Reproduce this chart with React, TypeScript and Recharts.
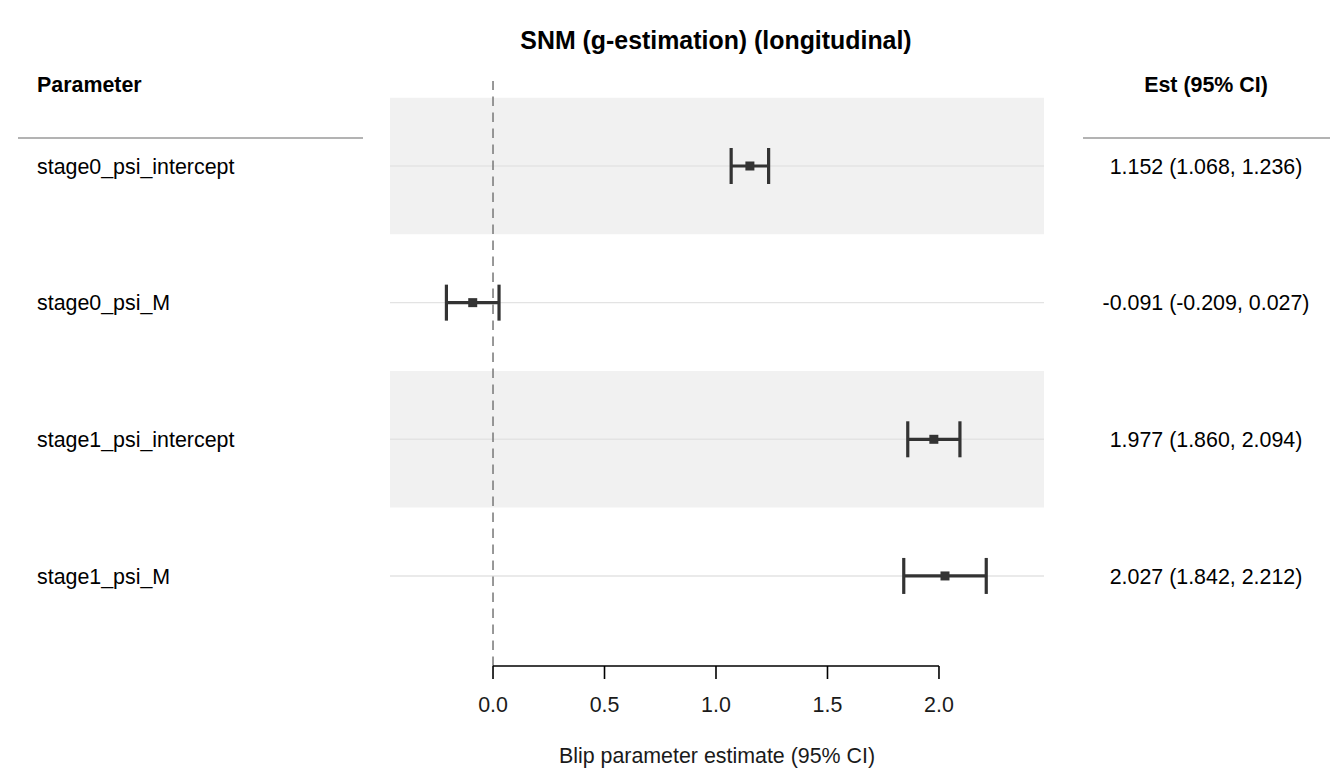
import React from 'react';
import {
  ComposedChart,
  Scatter,
  XAxis,
  YAxis,
  ZAxis,
  ErrorBar,
  ReferenceArea,
  ReferenceLine,
} from 'recharts';

// Blip parameter estimates with 95% confidence limits
const parameters = ['stage0_psi_intercept', 'stage0_psi_M', 'stage1_psi_intercept', 'stage1_psi_M'];
const estimates = [1.152, -0.091, 1.977, 2.027];
const lowerCI = [1.068, -0.209, 1.86, 1.842];
const upperCI = [1.236, 0.027, 2.094, 2.212];
const xTicks = [0, 0.5, 1, 1.5, 2];

const FONT = '"Liberation Sans", Arial, Helvetica, sans-serif';
const BASE = 21.4;
const X_DOMAIN: [number, number] = [-0.462, 2.471];
const Y_DOMAIN: [number, number] = [0.378, 4.659];

const fmt = (v: number) => v.toFixed(3);

const rows = parameters.map((name, i) => ({
  row: i + 1,
  name,
  est: estimates[i],
  ci: [estimates[i] - lowerCI[i], upperCI[i] - estimates[i]],
  label: `${fmt(estimates[i])} (${fmt(lowerCI[i])}, ${fmt(upperCI[i])})`,
}));

const rowTicks = rows.map((r) => r.row);

const ParamTick = (props: any) => {
  const r = rows.find((d) => d.row === props.payload.value);
  return (
    <text x={37} y={props.y} dy={7.8} fontSize={BASE} fontFamily={FONT} fill="#000" textAnchor="start">
      {r ? r.name : ''}
    </text>
  );
};

const EstTick = (props: any) => {
  const r = rows.find((d) => d.row === props.payload.value);
  return (
    <text x={1206} y={props.y} dy={7.8} fontSize={BASE} fontFamily={FONT} fill="#000" textAnchor="middle">
      {r ? r.label : ''}
    </text>
  );
};

export default function App() {
  return (
    <div style={{ position: 'absolute', left: 0, top: 0, width: 1344, height: 768, background: '#fff' }}>
      <ComposedChart
        width={1344}
        height={768}
        data={rows}
        margin={{ top: 81, right: 0, bottom: 0, left: 0 }}
      >
        <XAxis
          dataKey="est"
          type="number"
          domain={X_DOMAIN}
          allowDataOverflow
          ticks={xTicks}
          tickFormatter={(v: number) => v.toFixed(1)}
          axisLine={false}
          tickLine={{ stroke: '#000', strokeWidth: 1.6 }}
          tickSize={13}
          tickMargin={18}
          height={102}
          tick={{ fontSize: BASE, fill: '#1a1a1a', fontFamily: FONT }}
        />
        <YAxis
          yAxisId="left"
          dataKey="row"
          type="number"
          domain={Y_DOMAIN}
          allowDataOverflow
          reversed
          ticks={rowTicks}
          width={390}
          axisLine={false}
          tickLine={false}
          tick={<ParamTick />}
        />
        <YAxis
          yAxisId="right"
          orientation="right"
          type="number"
          domain={Y_DOMAIN}
          allowDataOverflow
          reversed
          ticks={rowTicks}
          width={300}
          axisLine={false}
          tickLine={false}
          tick={<EstTick />}
        />
        <ZAxis range={[81, 81]} />

        {rows
          .filter((_, i) => i % 2 === 0)
          .map((r) => (
            <ReferenceArea
              key={`band-${r.row}`}
              yAxisId="left"
              x1={X_DOMAIN[0]}
              x2={X_DOMAIN[1]}
              y1={r.row - 0.5}
              y2={r.row + 0.5}
              fill="#f1f1f1"
              fillOpacity={1}
              stroke="none"
            />
          ))}
        {rows.map((r) => (
          <ReferenceLine key={`grid-${r.row}`} yAxisId="left" y={r.row} stroke="#e3e3e3" strokeWidth={1.4} />
        ))}
        <ReferenceLine
          yAxisId="left"
          x={0}
          stroke="#7f7f7f"
          strokeWidth={1.6}
          strokeDasharray="9.5 6.5"
        />
        <ReferenceLine
          yAxisId="left"
          segment={[
            { x: 0, y: Y_DOMAIN[1] },
            { x: 2, y: Y_DOMAIN[1] },
          ]}
          stroke="#000"
          strokeWidth={1.6}
          ifOverflow="visible"
        />

        <Scatter yAxisId="left" dataKey="row" fill="#333333" shape="square" isAnimationActive={false}>
          <ErrorBar dataKey="ci" direction="x" width={18} stroke="#333333" strokeWidth={3.2} />
        </Scatter>
      </ComposedChart>

      <svg
        width={1344}
        height={768}
        style={{ position: 'absolute', left: 0, top: 0, pointerEvents: 'none' }}
        fontFamily={FONT}
      >
        <text x={716} y={49} fontSize={24.9} fontWeight="bold" textAnchor="middle" fill="#000">
          SNM (g-estimation) (longitudinal)
        </text>
        <text x={37} y={92} fontSize={BASE} fontWeight="bold" fill="#000">
          Parameter
        </text>
        <text x={1206} y={92} fontSize={BASE} fontWeight="bold" textAnchor="middle" fill="#000">
          Est (95% CI)
        </text>
        <line x1={18} x2={363} y1={138} y2={138} stroke="#b3b3b3" strokeWidth={2} />
        <line x1={1083} x2={1330} y1={138} y2={138} stroke="#b3b3b3" strokeWidth={2} />
        <text x={717} y={763} fontSize={BASE} textAnchor="middle" fill="#1a1a1a">
          Blip parameter estimate (95% CI)
        </text>
      </svg>
    </div>
  );
}
